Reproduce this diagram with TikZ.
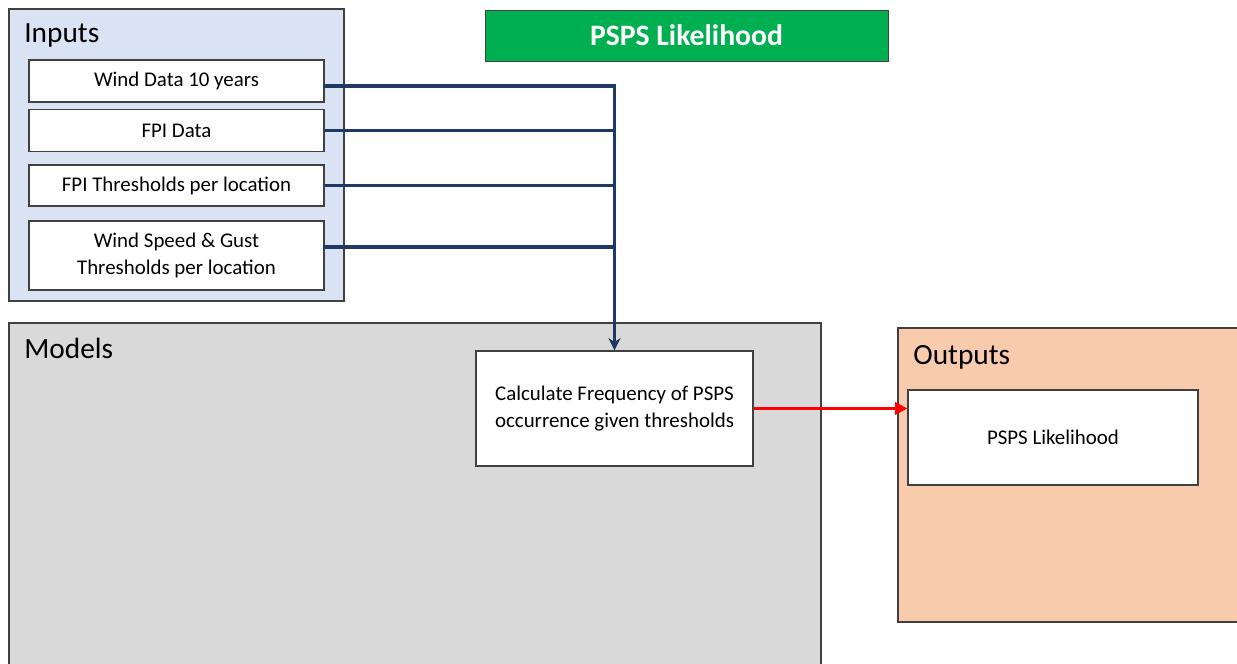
\documentclass[tikz,border=0pt]{standalone}
\usepackage{fontspec}
\setmainfont{Carlito}
\usetikzlibrary{arrows.meta}
\definecolor{inblue}{HTML}{DAE3F3}
\definecolor{modgray}{HTML}{D9D9D9}
\definecolor{outpeach}{HTML}{F8CBAD}
\definecolor{titlegreen}{HTML}{00B050}
\definecolor{navy}{HTML}{1F3864}

\begin{document}
\begin{tikzpicture}[x=0.02cm,y=-0.02cm,
        panel/.style={draw=black!75,line width=0.8pt},
        heading/.style={anchor=north west,inner sep=0pt,font=\fontsize{16.7}{18}\selectfont},
        box/.style={draw=black!75,line width=0.8pt,fill=white,align=center,inner sep=0pt,
            minimum width=5.9cm,font=\fontsize{11.9}{15}\selectfont},
        feed/.style={draw=navy,line width=1.8pt},
        result/.style={draw=red,line width=1.7pt,-{Triangle[length=7pt,width=7pt]}}]
        \clip (0,0) rectangle (1237,663);
        \useasboundingbox (0,0) rectangle (1237,663);
        % panels
        \filldraw[panel,fill=inblue] (9,9) rectangle (344,301);
        \node[heading] (inputs) at (24,23) {Inputs};
        \filldraw[panel,fill=modgray] (9,323) rectangle (821,670);
        \node[heading] (models) at (24,338) {Models};
        \filldraw[panel,fill=outpeach] (898,328) rectangle (1245,622);
        \node[heading] (outputs) at (913,345) {Outputs};
        \node[draw=black!75,fill=titlegreen,text=white,minimum width=8.06cm,minimum height=1.02cm,
            font=\bfseries\fontsize{16.9}{18}\selectfont] (title) at (686.5,35.5) {PSPS Likelihood};
        % input boxes
        \node[box,minimum height=0.84cm] (wind) at (176.5,81) {Wind Data 10 years};
        \node[box,minimum height=0.84cm] (fpi) at (176.5,130.5) {FPI Data};
        \node[box,minimum height=0.82cm] (fpith) at (176.5,185.5) {FPI Thresholds per location};
        \node[box,minimum height=1.38cm] (gust) at (176.5,255.5) {Wind Speed \& Gust\\Thresholds per location};
        % model and output
        \node[box,minimum width=5.54cm,minimum height=2.3cm] (calc) at (614.5,408.5)
            {Calculate Frequency of PSPS\\occurrence given thresholds};
        \node[box,minimum width=5.8cm,minimum height=1.9cm] (likely) at (1053,437.5) {PSPS Likelihood};
        % connectors
        \draw[feed,-{Stealth[length=7pt,width=7pt]}] ([xshift=-1pt,yshift=-2.8pt]wind.east) -| (calc.north);
        \draw[feed] (fpi.east) -- (fpi.east -| calc.north);
        \draw[feed] (fpith.east) -- (fpith.east -| calc.north);
        \draw[feed] ([xshift=-1pt,yshift=4.8pt]gust.east) -- ([yshift=4.8pt]gust.east -| calc.north);
        \draw[result] (calc.east) -- (calc.east -| likely.west);
\end{tikzpicture}
\end{document}
